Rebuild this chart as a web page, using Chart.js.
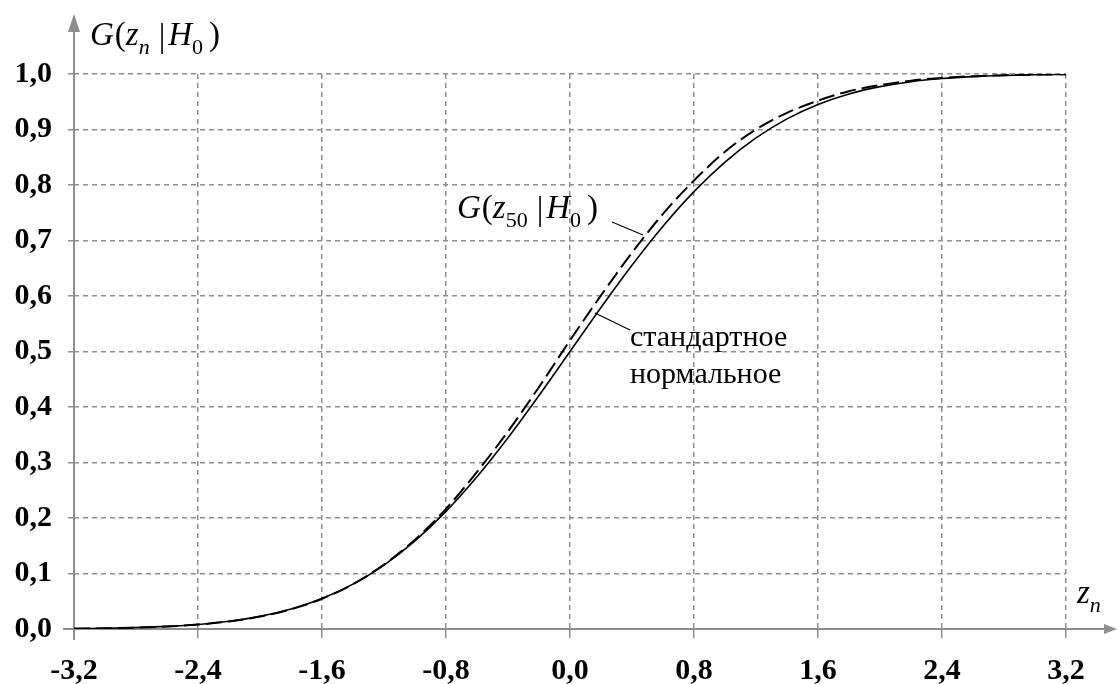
<!DOCTYPE html>
<html>
<head>
<meta charset="utf-8">
<script src="https://cdn.jsdelivr.net/npm/chart.js@4.4.0/dist/chart.umd.min.js"></script>
<style>
  body { margin: 0; background: #fff; }
  canvas { display: block; }
</style>
</head>
<body>
<canvas id="grafico" width="1117" height="684"></canvas>
<script>
// valores (passo 0,2)
const zValores = [-3.2, -3.0, -2.8, -2.6, -2.4, -2.2, -2.0, -1.8, -1.6, -1.4, -1.2, -1.0, -0.8, -0.6, -0.4, -0.2,
  0.0, 0.2, 0.4, 0.6, 0.8, 1.0, 1.2, 1.4, 1.6, 1.8, 2.0, 2.2, 2.4, 2.6, 2.8, 3.0, 3.2]
// curva continua: "стандартное нормальное"
const normalPadrao = [0.0007, 0.0013, 0.0026, 0.0047, 0.0082, 0.0139, 0.0228, 0.0359, 0.0548, 0.0808, 0.1151, 0.1587,
  0.2119, 0.2743, 0.3446, 0.4207, 0.5000, 0.5793, 0.6554, 0.7257, 0.7881, 0.8413, 0.8849, 0.9192, 0.9452, 0.9641,
  0.9772, 0.9861, 0.9918, 0.9953, 0.9974, 0.9987, 0.9993]
// curva tracejada: G(z50|H0)
const gZ50 = [0.0005, 0.0012, 0.0025, 0.0046, 0.0080, 0.0136, 0.0224, 0.0355, 0.0545, 0.0808, 0.1160, 0.1610,
  0.2165, 0.2830, 0.3560, 0.4360, 0.5200, 0.6010, 0.6780, 0.7480, 0.8080, 0.8600, 0.9000, 0.9300, 0.9520, 0.9690,
  0.9800, 0.9880, 0.9930, 0.9960, 0.9978, 0.9989, 0.9995]
const xTicks = [-3.2, -2.4, -1.6, -0.8, 0.0, 0.8, 1.6, 2.4, 3.2]
const yTicks = [0.0, 0.1, 0.2, 0.3, 0.4, 0.5, 0.6, 0.7, 0.8, 0.9, 1.0]

const cinza = '#8e8e8e'
const serif = '"Liberation Serif", "Times New Roman", serif'

const virgula = v => (Math.abs(v) < 1e-9 ? 0 : v).toFixed(1).replace('.', ',')

// desenha texto em sequencia: [texto, fonte, deslocamento y, espaco antes]
const escreve = (ctx, x, y, partes) => {
  partes.forEach(([t, f, dy, gap]) => {
    x += gap || 0
    ctx.font = f
    ctx.fillText(t, x, y + (dy || 0))
    x += ctx.measureText(t).width
  })
}

const formula = (sub) => {
  const it = 'italic 33px ' + serif
  const rm = '33px ' + serif
  const itS = 'italic 22px ' + serif
  const rmS = '22px ' + serif
  return [
    ['G', it, 0, 0], ['(', rm, 0, 1], ['z', it, 0, 0], [sub, sub === 'n' ? itS : rmS, 9, 0],
    ['|', rm, 2, 9], ['H', it, 0, 3], ['0', rmS, 9, 0], [')', rm, 0, 6]
  ]
}

const eixosETextos = {
  id: 'eixosETextos',
  beforeDatasetsDraw(chart) {
    const ctx = chart.ctx
    const { left, bottom } = chart.chartArea
    ctx.save()
    ctx.strokeStyle = cinza
    ctx.fillStyle = cinza
    ctx.lineWidth = 2
    // eixo x
    ctx.beginPath()
    ctx.moveTo(left - 11, bottom)
    ctx.lineTo(1106, bottom)
    ctx.stroke()
    ctx.beginPath()
    ctx.moveTo(1117, bottom)
    ctx.lineTo(1104, bottom - 5)
    ctx.lineTo(1104, bottom + 5)
    ctx.closePath()
    ctx.fill()
    // eixo y
    ctx.beginPath()
    ctx.moveTo(left, bottom + 11)
    ctx.lineTo(left, 30)
    ctx.stroke()
    ctx.beginPath()
    ctx.moveTo(left, 14)
    ctx.lineTo(left - 6, 32)
    ctx.lineTo(left + 6, 32)
    ctx.closePath()
    ctx.fill()
    ctx.restore()
  },
  afterDraw(chart) {
    const ctx = chart.ctx
    ctx.save()
    ctx.fillStyle = '#000'
    ctx.textBaseline = 'alphabetic'
    ctx.textAlign = 'left'

    // titulo do eixo y
    escreve(ctx, 90, 45, formula('n'))
    // titulo do eixo x
    escreve(ctx, 1077, 603, [['z', 'italic 33px ' + serif, 0, 0], ['n', 'italic 22px ' + serif, 9, 0]])
    // rotulo da curva tracejada
    escreve(ctx, 457, 218, formula('50'))
    // rotulo da curva continua
    ctx.font = '30px ' + serif
    ctx.fillText('стандартное', 630, 346)
    ctx.fillText('нормальное', 630, 383)

    // linhas de chamada
    ctx.strokeStyle = '#000'
    ctx.lineWidth = 1.2
    ctx.beginPath()
    ctx.moveTo(612, 222)
    ctx.lineTo(643, 235)
    ctx.moveTo(595, 313)
    ctx.lineTo(630, 330)
    ctx.stroke()
    ctx.restore()
  }
}

const config = {
  type: 'line',
  data: {
    datasets: [{
      label: 'стандартное нормальное',
      data: zValores.map((z, i) => ({ x: z, y: normalPadrao[i] })),
      borderColor: '#000',
      borderWidth: 1.6,
      pointRadius: 0,
      cubicInterpolationMode: 'monotone',
      fill: false
    }, {
      label: 'G(z50|H0)',
      data: zValores.map((z, i) => ({ x: z, y: gZ50[i] })),
      borderColor: '#000',
      borderWidth: 2,
      borderDash: [16, 6],
      pointRadius: 0,
      cubicInterpolationMode: 'monotone',
      fill: false
    }]
  },
  options: {
    responsive: false,
    animation: false,
    layout: {
      padding: { top: 74, right: 51, left: 0, bottom: 0 }
    },
    scales: {
      x: {
        type: 'linear',
        min: -3.2,
        max: 3.2,
        afterBuildTicks: scale => { scale.ticks = xTicks.map(v => ({ value: v })) },
        afterFit: scale => { scale.height = 55 },
        grid: {
          color: cinza,
          lineWidth: 1.5,
          tickLength: 9,
          tickColor: cinza,
          tickBorderDash: []
        },
        border: { display: false, dash: [5, 4] },
        ticks: {
          autoSkip: false,
          maxRotation: 0,
          padding: 15,
          color: '#000',
          font: { family: serif, size: 30, weight: 'bold' },
          callback: v => virgula(v)
        }
      },
      y: {
        type: 'linear',
        min: 0,
        max: 1,
        afterBuildTicks: scale => { scale.ticks = yTicks.map(v => ({ value: v })) },
        afterFit: scale => { scale.width = 74 },
        grid: {
          color: cinza,
          lineWidth: 1.5,
          tickLength: 6,
          tickColor: cinza,
          tickBorderDash: [5, 4]
        },
        border: { display: false, dash: [5, 4] },
        ticks: {
          autoSkip: false,
          padding: 16,
          color: '#000',
          font: { family: serif, size: 30, weight: 'bold' },
          callback: v => virgula(v)
        }
      }
    },
    plugins: {
      legend: { display: false },
      tooltip: { enabled: false }
    }
  },
  plugins: [eixosETextos]
}

const meuGrafico = new Chart(document.getElementById('grafico'), config)
</script>
</body>
</html>
